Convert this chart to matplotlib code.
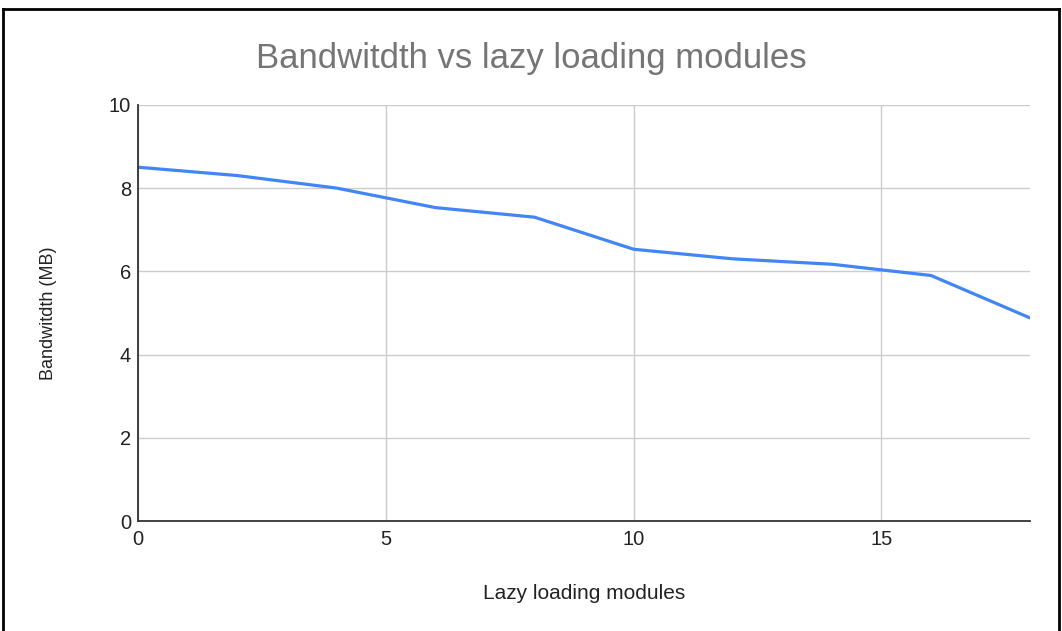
import matplotlib
matplotlib.use('Agg')
import matplotlib.pyplot as plt
from matplotlib.lines import Line2D

# data
modules = [0, 2, 4, 6, 8, 10, 12, 14, 16, 18]
bandwidth = [8.5, 8.3, 8.0, 7.53, 7.3, 6.53, 6.3, 6.17, 5.9, 4.88]
x_ticks = [0, 5, 10, 15]
y_ticks = [0, 2, 4, 6, 8, 10]

plt.rcParams['font.family'] = ['Liberation Sans', 'DejaVu Sans']

fig = plt.figure(figsize=(10.62, 6.31), dpi=100)
ax = fig.add_axes([0.13, 0.174, 0.84, 0.66])

ax.plot(modules, bandwidth, '-', color='#4285F4', linewidth=2.3, solid_joinstyle='round')

ax.set_xlim(0, 18)
ax.set_ylim(0, 10)
ax.set_xticks(x_ticks)
ax.set_yticks(y_ticks)
ax.grid(True, color='#cccccc', linewidth=1)
ax.set_axisbelow(True)
ax.tick_params(length=0, labelsize=14.5, colors='#222222')
ax.tick_params(axis='x', pad=6)
ax.tick_params(axis='y', pad=5)
for s in ['top', 'right']:
    ax.spines[s].set_visible(False)
for s in ['left', 'bottom']:
    ax.spines[s].set_color('#333333')
    ax.spines[s].set_linewidth(1.3)

fig.text(0.5, 0.908, 'Bandwitdth vs lazy loading modules', ha='center', va='center',
         fontsize=25, color='#757575')
fig.text(0.55, 0.06, 'Lazy loading modules', ha='center', va='center', fontsize=15, color='#222222')
fig.text(0.046, 0.504, 'Bandwitdth (MB)', ha='center', va='center', rotation=90,
         fontsize=13, color='#222222')

# black frame around the chart (no bottom edge visible)
fig.add_artist(Line2D([0.003, 0.003], [0, 0.986], color='black', linewidth=2, transform=fig.transFigure))
fig.add_artist(Line2D([0.003, 0.997], [0.986, 0.986], color='black', linewidth=2, transform=fig.transFigure))
fig.add_artist(Line2D([0.997, 0.997], [0, 0.986], color='black', linewidth=2, transform=fig.transFigure))

fig.savefig('out.png', dpi=100)
